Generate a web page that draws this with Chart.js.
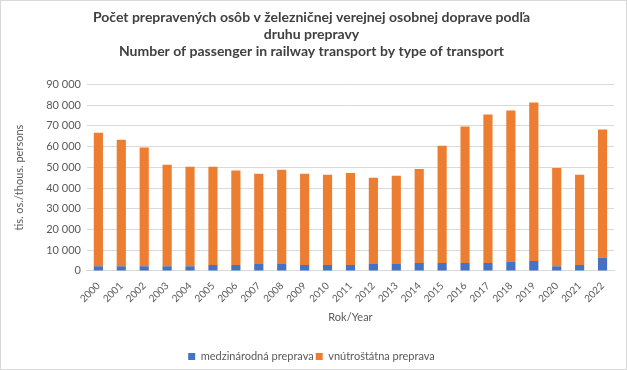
<!DOCTYPE html>
<html><head><meta charset="utf-8">
<script src="https://cdn.jsdelivr.net/npm/chart.js@4/dist/chart.umd.min.js"></script>
<style>
html,body{margin:0;padding:0;background:#fff;}
#wrap{position:absolute;left:0;top:0;width:625px;height:368px;border:1px solid #d9d9d9;}
</style></head>
<body>
<div id="wrap"><canvas id="c" width="625" height="368"></canvas></div>
<script>
const years = ["2000","2001","2002","2003","2004","2005","2006","2007","2008","2009","2010","2011","2012","2013","2014","2015","2016","2017","2018","2019","2020","2021","2022"];
const totals = [66700,63300,59500,51200,50300,50300,48400,46900,48800,46900,46400,47300,44900,45900,49200,60400,69700,75500,77400,81300,49700,46400,68200];
const international = [2300,2300,2300,2300,2300,2800,2800,3300,3300,2800,2800,2800,3300,3300,3800,3800,3800,3800,4300,4800,2300,2800,6300];
const domestic = totals.map((t,i)=>t-international[i]);
const yTicks = [0,10000,20000,30000,40000,50000,60000,70000,80000,90000];

const font = "Lato, 'Open Sans', sans-serif";
const fmt = v => String(v).replace(/\B(?=(\d{3})+(?!\d))/g, "\u00a0");

new Chart(document.getElementById('c'), {
  type: 'bar',
  data: {
    labels: years,
    datasets: [
      {label: 'medzinárodná preprava', data: international, backgroundColor: '#4472c4', barPercentage: 0.4, categoryPercentage: 1},
      {label: 'vnútroštátna preprava', data: domestic, backgroundColor: '#ed7d31', barPercentage: 0.4, categoryPercentage: 1}
    ]
  },
  options: {
    responsive: false,
    animation: false,
    layout: {padding: {left: 8, right: 12, top: 4, bottom: -3}},
    plugins: {
      title: {
        display: true,
        text: ['Počet prepravených osôb v železničnej verejnej osobnej doprave podľa', 'druhu prepravy', 'Number of passenger in railway transport by type of transport'],
        color: '#404040',
        font: {family: font, size: 14, weight: 'bold'},
        lineHeight: 1.15,
        padding: {top: 4, bottom: 25}
      },
      legend: {
        position: 'bottom',
        labels: {color: '#595959', font: {family: font, size: 11}, boxWidth: 7, boxHeight: 7, padding: 2}
      },
      tooltip: {enabled: false}
    },
    scales: {
      x: {
        stacked: true,
        grid: {display: false},
        border: {color: '#d9d9d9'},
        ticks: {color: '#595959', font: {family: font, size: 10}, maxRotation: 45, minRotation: 45, autoSkip: false, padding: 1},
        title: {display: true, text: 'Rok/Year', color: '#595959', font: {family: font, size: 11}, padding: {top: 5, bottom: 25}}
      },
      y: {
        stacked: true,
        min: 0, max: 90000,
        afterBuildTicks: ax => { ax.ticks = yTicks.map(v => ({value: v})); },
        grid: {color: '#d9d9d9', drawTicks: false},
        border: {display: false},
        ticks: {color: '#595959', font: {family: font, size: 11}, padding: 6, callback: v => fmt(v)},
        title: {display: true, text: 'tis. os./thous. persons', color: '#595959', font: {family: font, size: 11}, padding: {bottom: 14}}
      }
    }
  }
});
</script>
</body></html>
